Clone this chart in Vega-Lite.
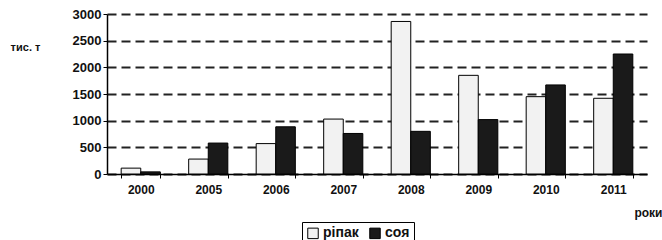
{
  "$schema": "https://vega.github.io/schema/vega-lite/v6.json",
  "width": 540,
  "height": 160,
  "autosize": "none",
  "padding": {"left": 107, "top": 14, "right": 15, "bottom": 66},
  "background": "white",
  "config": {
    "view": {"stroke": null},
    "font": "Liberation Sans",
    "axis": {"labelFont": "Liberation Sans", "labelFontWeight": "bold", "labelFontSize": 12, "labelColor": "#111", "titleFont": "Liberation Sans", "titleFontWeight": "bold", "titleFontSize": 11, "titleColor": "#111"}
  },
  "data": {
    "values": [
      {"year": "2000", "crop": "ріпак", "value": 110},
      {"year": "2000", "crop": "соя", "value": 40},
      {"year": "2005", "crop": "ріпак", "value": 280},
      {"year": "2005", "crop": "соя", "value": 580},
      {"year": "2006", "crop": "ріпак", "value": 570},
      {"year": "2006", "crop": "соя", "value": 885},
      {"year": "2007", "crop": "ріпак", "value": 1030},
      {"year": "2007", "crop": "соя", "value": 760},
      {"year": "2008", "crop": "ріпак", "value": 2860},
      {"year": "2008", "crop": "соя", "value": 800},
      {"year": "2009", "crop": "ріпак", "value": 1850},
      {"year": "2009", "crop": "соя", "value": 1020},
      {"year": "2010", "crop": "ріпак", "value": 1450},
      {"year": "2010", "crop": "соя", "value": 1670},
      {"year": "2011", "crop": "ріпак", "value": 1420},
      {"year": "2011", "crop": "соя", "value": 2250}
    ]
  },
  "mark": {"type": "bar", "stroke": "#000", "strokeWidth": 1},
  "encoding": {
    "x": {
      "field": "year", "type": "nominal", "sort": null,
      "scale": {"paddingInner": 0.42, "paddingOuter": 0.21},
      "axis": {
        "title": "роки", "titleX": 555, "titleY": 38, "titleAlign": "right", "titleBaseline": "middle", "titleFontSize": 12,
        "labelAngle": 0, "labelPadding": 6, "tickBand": "extent", "tickColor": "#000", "tickSize": 4,
        "domainColor": "#000", "domainWidth": 1.5, "grid": false
      }
    },
    "xOffset": {"field": "crop", "type": "nominal", "sort": ["ріпак", "соя"]},
    "y": {
      "field": "value", "type": "quantitative",
      "scale": {"domain": [0, 3000], "nice": false},
      "axis": {
        "values": [0, 500, 1000, 1500, 2000, 2500, 3000], "format": "d", "labelFontSize": 13,
        "title": "тис. т", "titleAngle": 0, "titleX": -82, "titleY": 33, "titleAlign": "center", "titleBaseline": "middle",
        "domainColor": "#000", "domainWidth": 1.5, "tickColor": "#000", "tickSize": 4, "labelPadding": 2,
        "grid": true, "gridColor": "#222", "gridWidth": 2, "gridDash": [9, 5]
      }
    },
    "fill": {
      "field": "crop", "type": "nominal", "sort": ["ріпак", "соя"],
      "scale": {"domain": ["ріпак", "соя"], "range": ["#f2f2f2", "#1a1a1a"]},
      "legend": {
        "title": null, "orient": "none", "direction": "horizontal", "legendX": 195, "legendY": 208,
        "strokeColor": "#000", "padding": 4, "symbolType": "square", "symbolSize": 110, "symbolStrokeColor": "#000", "symbolStrokeWidth": 1,
        "labelFont": "Liberation Sans", "labelFontWeight": "bold", "labelFontSize": 14, "labelColor": "#111", "columnPadding": 8, "labelOffset": 3
      }
    }
  }
}
